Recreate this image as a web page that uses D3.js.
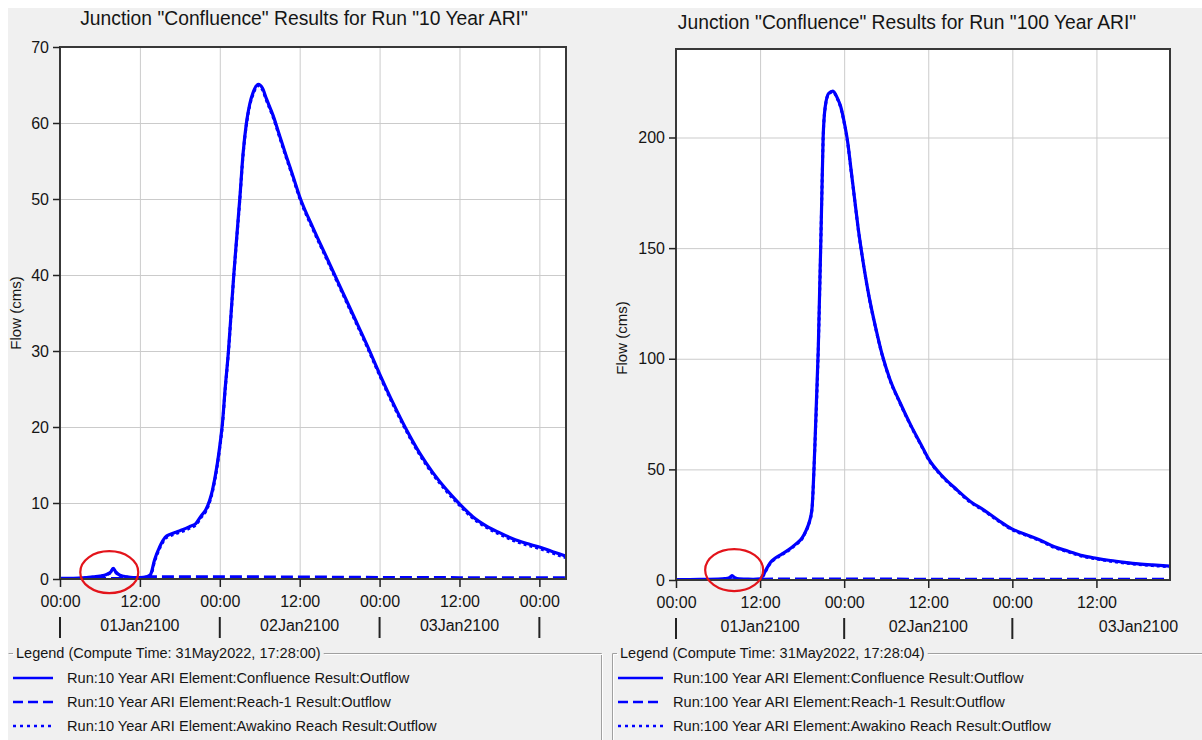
<!DOCTYPE html>
<html>
<head>
<meta charset="utf-8">
<script src="https://cdn.jsdelivr.net/npm/d3@7"></script>
<style>
  body { margin: 0; background: #fff; }
  svg { display: block; font-family: "Liberation Sans", Arial, sans-serif; }
</style>
</head>
<body>
<svg width="1202" height="740"></svg>
<script>
// ---- data (hours after 01Jan2100 00:00, flow in cms) ----
var hours10 = [0,2,4,5,6,7,7.6,8,8.4,9, 10,11,12,13,13.6,14.2,15,15.8,16.6,17.5, 18.5,19.5,20.4,21.2,21.9,22.9,23.6,24,24.4,24.8,
               25.3,25.7,26.1,26.5,27,27.5,28,28.5,29,29.8, 30.4,31,32,33,34,35,36,38,40,42, 44,46,48,50,52,54,56,58,60,62, 64,66,68,70,72,74,76];
var confluence10 = [0.1,0.1,0.2,0.3,0.4,0.6,0.9,1.4,0.9,0.5, 0.3,0.2,0.2,0.3,0.6,2.5,4.3,5.5,5.9,6.2, 6.5,6.9,7.3,8.3,9.1,11.7,15,17.5,20.5,25,
                    30,35,40,44.5,50,56,60,62.5,64,65.1, 64.6,63.2,61,58.3,55.6,53,50.3,46.2,42.4,38.6, 34.8,31,27,23.2,19.7,16.6,14,11.8,9.9,8.2, 7,6.1,5.3,4.7,4.2,3.6,3.0];
var awakino10 = [0.05,0.05,0.15,0.25,0.35,0.55,0.85,1.35,0.85,0.45, 0.25,0.15,0.1,0.1,0.4,2.3,4.1,5.3,5.7,6.0, 6.3,6.7,7.1,8.1,8.9,11.5,14.8,17.3,20.3,24.8,
                 29.8,34.8,39.8,44.3,49.8,55.8,59.8,62.3,63.8,64.9, 64.4,63.0,60.8,58.1,55.4,52.8,50.1,46,42.2,38.4, 34.6,30.8,26.8,23,19.5,16.4,13.8,11.6,9.7,8.0, 6.8,5.9,5.1,4.5,4.0,3.4,2.8];
var reachHours10 = [0,10,12,14,20,30,40,50,60,76];
var reach10 = [0.05,0.05,0.15,0.3,0.3,0.28,0.25,0.2,0.18,0.15];

var hours100 = [0,2,4,6,7,7.6,8,8.4,9,10, 11,12,12.5,13,13.5,14,15,16,17,18, 18.5,19,19.4,19.8,20.3,20.8,21,21.3,21.8,22.4,
                23,23.5,24,24.5,25,25.5,26,26.5,27.5,28.5, 29.5,30.5,32,33.5,35,36,38,40,42,44, 46,48,50,52,54,56,58,60,62,64, 66,68,70.5];
var confluence100 = [0.2,0.2,0.3,0.4,0.6,1,2,1,0.5,0.4, 0.3,0.5,2.5,5.5,8,9.5,11.5,13.5,16,19, 22,26,32,59,104,172,200,214,220,221,
                     218,214,207,198,185,172,159,148,129,114, 101,91,80,70,61,55,47,41,35.5,31.5, 27,23,20.5,18,15,13,11,9.8,8.8,8, 7.3,6.8,6.3];
var awakino100 = [0.1,0.1,0.1,0.2,0.4,0.8,1.8,0.8,0.3,0.2, 0.1,0.2,2.2,5.2,7.7,9.2,11.2,13.2,15.7,18.7, 21.7,25.7,31.7,58.7,103.7,171.7,199.7,213.7,219.7,220.7,
                  217.7,213.7,206.7,197.7,184.7,171.7,158.7,147.7,128.7,113.7, 100.7,90.7,79.7,69.7,60.7,54.7,46.7,40.7,35.2,31.2, 26.7,22.7,20.2,17.7,14.7,12.7,10.7,9.5,8.5,7.7, 7.0,6.5,6.0];
var reachHours100 = [0,10,12,14,20,30,40,50,60,70.5];
var reach100 = [0.1,0.1,0.3,0.4,0.4,0.4,0.35,0.3,0.3,0.3];

var yTicks10 = [0,10,20,30,40,50,60,70];
var yTicks100 = [0,50,100,150,200];
var timeTicks10 = [0,12,24,36,48,60,72];
var timeTicks100 = [0,12,24,36,48,60];
var dayTicks10 = [0,24,48,72];
var dayTicks100 = [0,24,48];
var dayLabels = ["01Jan2100","02Jan2100","03Jan2100"];
var dayLabelHours10 = [12,36,60];
var dayLabelHours100 = [12,36,66];

var runNames = ["10 Year ARI", "100 Year ARI"];
var computeTimes = ["31May2022, 17:28:00", "31May2022, 17:28:04"];
var elementNames = ["Confluence", "Reach-1", "Awakino Reach"];

var blue = "#0000ff";
var textColor = "#151515";

var svg = d3.select("svg");

// panel background
svg.append("rect").attr("x", 8).attr("y", 8).attr("width", 1194).attr("height", 732).attr("fill", "#f0f0f0");

function drawChart(cfg){
    var g = svg.append("g");
    var x = d3.scaleLinear().domain([0, cfg.hourMax]).range([cfg.left, cfg.right]);
    var y = d3.scaleLinear().domain([0, cfg.yMax]).range([cfg.bottom, cfg.top]);
    var pw = cfg.right - cfg.left, ph = cfg.bottom - cfg.top;

    g.append("rect").attr("x", cfg.left).attr("y", cfg.top).attr("width", pw).attr("height", ph).attr("fill", "#fff");

    // grid lines
    g.append("g").attr("transform", "translate(" + cfg.left + ",0)")
      .call(d3.axisLeft(y).tickValues(cfg.yTicks.filter(function(v){ return v > 0; })).tickSize(-pw).tickFormat(""))
      .call(function(a){ a.select(".domain").remove(); a.selectAll("line").attr("stroke", "#cbcbcb"); });
    g.append("g").attr("transform", "translate(0," + cfg.bottom + ")")
      .call(d3.axisBottom(x).tickValues(cfg.timeTicks.filter(function(v){ return v > 0; })).tickSize(-ph).tickFormat(""))
      .call(function(a){ a.select(".domain").remove(); a.selectAll("line").attr("stroke", "#cbcbcb"); });

    // series
    var clipId = "clip" + cfg.id;
    g.append("clipPath").attr("id", clipId).append("rect")
      .attr("x", cfg.left).attr("y", cfg.top).attr("width", pw).attr("height", ph);
    var plot = g.append("g").attr("clip-path", "url(#" + clipId + ")");
    var line = d3.line().curve(d3.curveMonotoneX)
      .x(function(d){ return x(d[0]); }).y(function(d){ return y(d[1]); });

    plot.append("path").datum(d3.zip(cfg.reachHours, cfg.reach))
      .attr("d", line).attr("fill", "none").attr("stroke", blue).attr("stroke-width", 3)
      .attr("stroke-dasharray", "12,5");
    plot.append("path").datum(d3.zip(cfg.hours, cfg.confluence))
      .attr("d", line).attr("fill", "none").attr("stroke", blue).attr("stroke-width", 3.2)
      .attr("stroke-linejoin", "round");
    plot.append("path").datum(d3.zip(cfg.hours, cfg.awakino))
      .attr("d", line).attr("fill", "none").attr("stroke", blue).attr("stroke-width", 3)
      .attr("stroke-dasharray", "3,3");

    // frame
    g.append("rect").attr("x", cfg.left).attr("y", cfg.top).attr("width", pw).attr("height", ph)
      .attr("fill", "none").attr("stroke", "#383838").attr("stroke-width", 2);

    // axes
    g.append("g").attr("transform", "translate(" + cfg.left + ",0)")
      .call(d3.axisLeft(y).tickValues(cfg.yTicks).tickSize(7).tickPadding(4))
      .call(function(a){
          a.select(".domain").remove();
          a.selectAll("line").attr("stroke", "#222").attr("stroke-width", 1.5);
          a.selectAll("text").attr("font-size", "16px").attr("fill", textColor)
            .attr("font-family", "'Liberation Sans', Arial, sans-serif");
      });
    g.append("g").attr("transform", "translate(0," + cfg.bottom + ")")
      .call(d3.axisBottom(x).tickValues(cfg.timeTicks).tickSize(8).tickPadding(9)
            .tickFormat(function(h){ return h % 24 === 0 ? "00:00" : "12:00"; }))
      .call(function(a){
          a.select(".domain").remove();
          a.selectAll("line").attr("stroke", "#222").attr("stroke-width", 1.5);
          a.selectAll("text").attr("font-size", "16px").attr("fill", textColor)
            .attr("font-family", "'Liberation Sans', Arial, sans-serif");
      });

    // day row
    g.selectAll(".dayTick").data(cfg.dayTicks).enter().append("line")
      .attr("x1", function(d){ return x(d); }).attr("x2", function(d){ return x(d); })
      .attr("y1", cfg.bottom + 38).attr("y2", cfg.bottom + 59)
      .attr("stroke", "#222").attr("stroke-width", 2);
    g.selectAll(".dayLabel").data(cfg.dayLabelHours).enter().append("text")
      .attr("x", function(d){ return x(d); }).attr("y", cfg.bottom + 52)
      .attr("text-anchor", "middle").attr("font-size", "16px").attr("fill", textColor)
      .text(function(d, i){ return dayLabels[i]; });

    // title + y label
    g.append("text").attr("x", cfg.titleX).attr("y", cfg.titleY).attr("text-anchor", "middle")
      .attr("font-size", "19.3px").attr("fill", textColor)
      .text('Junction "Confluence" Results for Run "' + cfg.run + '"');
    g.append("text").attr("transform", "translate(" + cfg.yLabelX + "," + cfg.yLabelY + ") rotate(-90)")
      .attr("text-anchor", "middle").attr("dy", "0.35em").attr("font-size", "15px").attr("fill", textColor)
      .text("Flow (cms)");

    // red annotation ring
    g.append("ellipse").attr("cx", x(cfg.ring[0])).attr("cy", y(cfg.ring[1]))
      .attr("rx", 29).attr("ry", 21).attr("fill", "none").attr("stroke", "#e3141b").attr("stroke-width", 2.2);

    // legend group box
    var lg = svg.append("g");
    var title = lg.append("text").attr("x", cfg.legendX).attr("y", 658).attr("font-size", "14.5px").attr("fill", textColor)
      .text("Legend (Compute Time: " + cfg.computeTime + ")");
    var tEnd = cfg.legendX + title.node().getComputedTextLength() + 3;
    var boxStyle = function(p, c, off){
        p.attr("fill", "none").attr("stroke", c).attr("stroke-width", 1).attr("transform", "translate(" + off + "," + off + ")");
    };
    [["#a0a0a0", 0], ["#ffffff", 1]].forEach(function(s){
        lg.append("path").attr("d", "M" + (cfg.boxLeft + 0.5) + ",653.5 H" + (cfg.legendX - 3))
          .call(boxStyle, s[0], s[1]);
        lg.append("path").attr("d", "M" + tEnd + ",653.5 H" + (cfg.boxRight + 0.5) + (cfg.boxRightSide ? " V740" : ""))
          .call(boxStyle, s[0], s[1]);
        if (cfg.boxLeftSide) {
            lg.append("path").attr("d", "M" + (cfg.boxLeft + 0.5) + ",653.5 V740").call(boxStyle, s[0], s[1]);
        }
    });
    var dashes = [null, "10,5", "3,4"];
    elementNames.forEach(function(name, i){
        var cy = 678 + i * 24;
        lg.append("line").attr("x1", cfg.sampleX0).attr("x2", cfg.sampleX1).attr("y1", cy).attr("y2", cy)
          .attr("stroke", blue).attr("stroke-width", 2.6).attr("stroke-dasharray", dashes[i]);
        lg.append("text").attr("x", cfg.legendTextX).attr("y", cy + 5).attr("font-size", "14.6px").attr("fill", textColor)
          .text("Run:" + cfg.run + " Element:" + name + " Result:Outflow");
    });
}

drawChart({
    id: 10, run: runNames[0], computeTime: computeTimes[0],
    hours: hours10, confluence: confluence10, awakino: awakino10, reachHours: reachHours10, reach: reach10,
    yTicks: yTicks10, timeTicks: timeTicks10, dayTicks: dayTicks10, dayLabelHours: dayLabelHours10,
    hourMax: 76, yMax: 70, left: 60, right: 566, top: 47, bottom: 579,
    titleX: 304, titleY: 25, yLabelX: 16, yLabelY: 313, ring: [7.4, 0.9],
    legendX: 16, boxLeft: 8, boxRight: 601, boxRightSide: true, boxLeftSide: false,
    sampleX0: 13, sampleX1: 53, legendTextX: 67
});

drawChart({
    id: 100, run: runNames[1], computeTime: computeTimes[1],
    hours: hours100, confluence: confluence100, awakino: awakino100, reachHours: reachHours100, reach: reach100,
    yTicks: yTicks100, timeTicks: timeTicks100, dayTicks: dayTicks100, dayLabelHours: dayLabelHours100,
    hourMax: 70.5, yMax: 240, left: 676, right: 1170, top: 49, bottom: 580,
    titleX: 907, titleY: 29, yLabelX: 622, yLabelY: 338, ring: [8.3, 4.5],
    legendX: 620, boxLeft: 612, boxRight: 1202, boxRightSide: false, boxLeftSide: true,
    sampleX0: 618, sampleX1: 663, legendTextX: 673
});
</script>
</body>
</html>
